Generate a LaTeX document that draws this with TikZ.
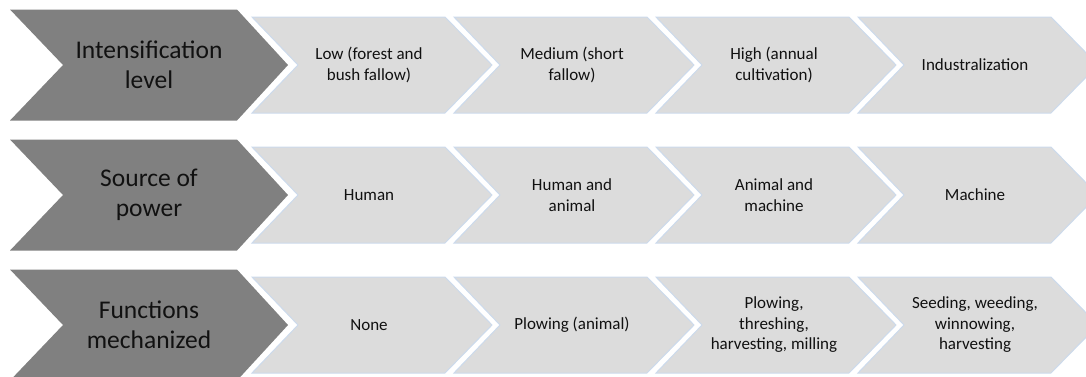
\documentclass[tikz,border=0pt]{standalone}
\usepackage{fontspec}
\setmainfont{Carlito}
\definecolor{darkchev}{HTML}{808080}
\definecolor{lightchev}{HTML}{DCDCDC}
\definecolor{chevedge}{HTML}{CCDAEC}
\definecolor{txt}{HTML}{111111}
\tikzset{
  headtext/.style={align=center, text=txt, font=\fontsize{25.5}{29.5}\selectfont, inner sep=0pt},
  celltext/.style={align=center, text=txt, font=\fontsize{17}{20.5}\selectfont, inner sep=0pt},
  headshape/.style={fill=darkchev, draw=none},
  cellshape/.style={fill=lightchev, draw=chevedge, line width=1pt, line join=miter},
}
\newcommand{\headchev}[1]{% #1 = mid y
  \path[headshape] (10,#1-55.5) -- (237,#1-55.5) -- (288,#1) -- (237,#1+55.5) -- (10,#1+55.5) -- (63,#1) -- cycle;
}
\newcommand{\cellchev}[2]{% #1 = left x, #2 = mid y
  \path[cellshape] (#1,#2-48) -- (#1+193,#2-48) -- (#1+240,#2) -- (#1+193,#2+48) -- (#1,#2+48) -- (#1+46,#2) -- cycle;
}
\begin{document}
\begin{tikzpicture}[x=1pt,y=-1pt]
\useasboundingbox (0,0) rectangle (1086,376);
\clip (0,0) rectangle (1086,376);
% row shapes
\foreach \ym in {65,195,325}{
  \headchev{\ym}
  \foreach \i in {0,1,2,3}{
    \pgfmathsetmacro{\xo}{252+202*\i}
    \cellchev{\xo}{\ym}
  }
}
% row 1
\node[headtext] (h1) at (149,65) {Intensification\\level};
\node[celltext] (c11) at (369,65) {Low (forest and\\bush fallow)};
\node[celltext] (c12) at (572,65) {Medium (short\\fallow)};
\node[celltext] (c13) at (774,65) {High (annual\\cultivation)};
\node[celltext] (c14) at (975,65) {Industralization};
% row 2
\node[headtext] (h2) at (149,195) {Source of\\power};
\node[celltext] (c21) at (369,195) {Human};
\node[celltext] (c22) at (572,195) {Human and\\animal};
\node[celltext] (c23) at (774,195) {Animal and\\machine};
\node[celltext] (c24) at (975,195) {Machine};
% row 3
\node[headtext] (h3) at (149,325) {Functions\\mechanized};
\node[celltext] (c31) at (369,325) {None};
\node[celltext] (c32) at (572,325) {Plowing (animal)};
\node[celltext] (c33) at (774,325) {Plowing,\\threshing,\\harvesting, milling};
\node[celltext] (c34) at (975,325) {Seeding, weeding,\\winnowing,\\harvesting};
\end{tikzpicture}
\end{document}
